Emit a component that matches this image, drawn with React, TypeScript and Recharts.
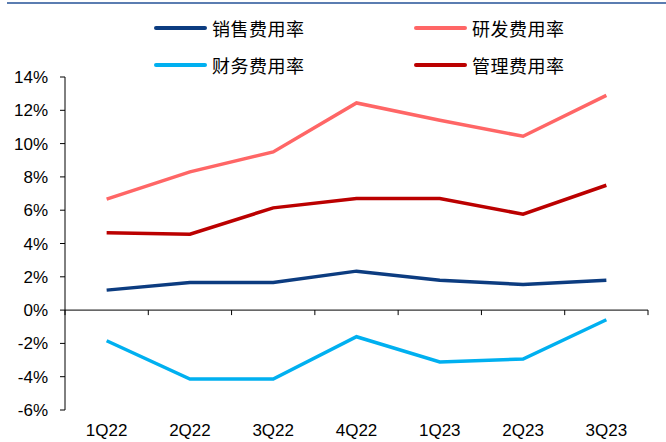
import React from 'react'
import { Line, LineChart, ReferenceLine, XAxis, YAxis } from 'recharts'

const categories = ['1Q22', '2Q22', '3Q22', '4Q22', '1Q23', '2Q23', '3Q23']
const salesRate = [1.2, 1.66, 1.66, 2.34, 1.8, 1.54, 1.8]
const rdRate = [6.66, 8.3, 9.5, 12.44, 11.4, 10.44, 12.9]
const financeRate = [-1.84, -4.14, -4.14, -1.6, -3.12, -2.94, -0.58]
const adminRate = [4.64, 4.56, 6.14, 6.7, 6.7, 5.76, 7.5]
const yTicks = [-6, -4, -2, 0, 2, 4, 6, 8, 10, 12, 14]

const series = [
  { key: 'sales', name: '销售费用率', color: '#0c3c80' },
  { key: 'rd', name: '研发费用率', color: '#ff6666' },
  { key: 'finance', name: '财务费用率', color: '#00b0f0' },
  { key: 'admin', name: '管理费用率', color: '#bb0000' },
]

const data = categories.map((quarter, i) => ({
  quarter,
  sales: salesRate[i],
  rd: rdRate[i],
  finance: financeRate[i],
  admin: adminRate[i],
}))

const latin = '"Liberation Sans", Arial, sans-serif'
const cjk = '"Noto Sans CJK SC", "Liberation Sans", sans-serif'

// zero line with category tick marks hanging below it
function ZeroAxis(props: any) {
  const { x1, x2, y1 } = props
  if (x1 == null || x2 == null || y1 == null) return null
  const step = (x2 - x1) / categories.length
  return (
    <g>
      <line x1={x1} y1={y1} x2={x2} y2={y1} stroke="#000" strokeWidth={1} />
      {categories.concat('').map((_, i) => (
        <line
          key={i}
          x1={x1 + i * step}
          x2={x1 + i * step}
          y1={y1}
          y2={y1 + 5}
          stroke="#000"
          strokeWidth={1}
        />
      ))}
    </g>
  )
}

const legendCols = [154, 414]
const legendRows = [28, 65]

export default function App() {
  return (
    <div
      style={{
        position: 'absolute',
        left: 0,
        top: 0,
        width: 666,
        height: 442,
        background: '#fff',
        overflow: 'hidden',
      }}
    >
      <div
        style={{ position: 'absolute', left: 7, top: 2, width: 659, height: 2, background: '#5b7db1' }}
      />
      {series.map((s, i) => {
        const left = legendCols[i % 2]
        const cy = legendRows[Math.floor(i / 2)]
        return (
          <div key={s.key}>
            <div
              style={{
                position: 'absolute',
                left,
                top: cy - 2,
                width: 53,
                height: 4,
                borderRadius: 2,
                background: s.color,
              }}
            />
            <span
              style={{
                position: 'absolute',
                left: left + 58,
                top: cy - 10,
                fontFamily: cjk,
                fontSize: 18,
                lineHeight: '20px',
                letterSpacing: 0.5,
                color: '#000',
                whiteSpace: 'nowrap',
              }}
            >
              {s.name}
            </span>
          </div>
        )
      })}
      <LineChart
        width={666}
        height={442}
        data={data}
        margin={{ top: 77, right: 18, left: 5, bottom: 2 }}
      >
        <XAxis
          dataKey="quarter"
          scale="band"
          axisLine={false}
          tickLine={false}
          tickMargin={8}
          height={30}
          interval={0}
          tick={{ fontSize: 17, fill: '#000', fontFamily: latin }}
        />
        <YAxis
          width={60}
          domain={[-6, 14]}
          ticks={yTicks}
          interval={0}
          tickFormatter={(v) => `${v}%`}
          tickSize={5}
          tickMargin={12}
          axisLine={{ stroke: '#000' }}
          tickLine={{ stroke: '#000' }}
          tick={{ fontSize: 17, fill: '#000', fontFamily: latin }}
        />
        <ReferenceLine y={0} shape={ZeroAxis} />
        {series.map((s) => (
          <Line
            key={s.key}
            type="linear"
            dataKey={s.key}
            name={s.name}
            stroke={s.color}
            strokeWidth={3.5}
            dot={false}
            activeDot={false}
            isAnimationActive={false}
          />
        ))}
      </LineChart>
    </div>
  )
}
